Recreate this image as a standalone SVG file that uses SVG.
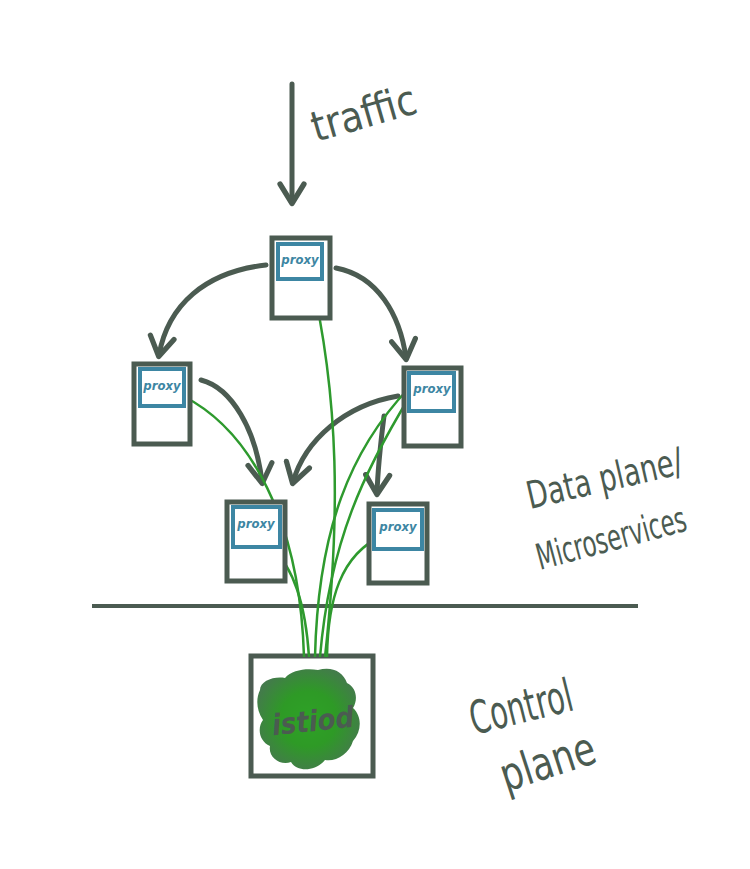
<svg xmlns="http://www.w3.org/2000/svg" width="750" height="869" viewBox="0 0 750 869">
<defs>
<style>
.box{fill:#fff;stroke:#4b5b51;stroke-width:5}
.inner{fill:#fff;stroke:#3d86a3;stroke-width:4}
.px{font-family:"DejaVu Sans Condensed","DejaVu Sans",sans-serif;font-style:italic;font-weight:bold;font-size:13px;fill:#3d86a3}
.arr{fill:none;stroke:#4b5b51;stroke-width:5;stroke-linecap:round}
.g{fill:none;stroke:#2e9a2e;stroke-width:2.5}
.hand{font-family:"DejaVu Sans Condensed","DejaVu Sans",sans-serif;fill:#4b5b51}
</style>
<marker id="ah" viewBox="0 0 20 20" refX="14" refY="10" markerWidth="6" markerHeight="6" orient="auto" markerUnits="strokeWidth">
<path d="M2,2 L15,10 L2,18" fill="none" stroke="#4b5b51" stroke-width="3.5" stroke-linecap="round" stroke-linejoin="round"/>
</marker>
<radialGradient id="blob" cx="0.5" cy="0.5" r="0.55">
<stop offset="0" stop-color="#2ea226"/>
<stop offset="0.5" stop-color="#2e9a26"/>
<stop offset="1" stop-color="#447a4c"/>
</radialGradient>
</defs>
<rect width="750" height="869" fill="#fff"/>

<line x1="92" y1="606" x2="638" y2="606" stroke="#4b5b51" stroke-width="4"/>

<g id="istiod">
<rect x="251" y="656" width="122" height="120" class="box"/>
<path d="M260,690 C260,681 274,676 285,678 C292,670 306,668 318,670 C331,666 343,671 347,683 C357,688 358,700 353,708 C362,716 362,731 353,741 C349,754 336,762 325,760 C315,772 297,772 291,762 C280,766 268,757 270,746 C259,741 257,728 263,720 C256,710 256,698 260,690 Z" fill="url(#blob)"/>
<text x="313" y="731" text-anchor="middle" class="hand" font-size="29" font-style="italic" font-weight="bold" transform="rotate(-6 313 722)">istiod</text>
</g>

<g id="connectors">
<line x1="292" y1="84" x2="292" y2="202" class="arr" marker-end="url(#ah)"/>
<path d="M266,265 C205,272 168,305 159,355" class="arr" marker-end="url(#ah)"/>
<path d="M336,268 C378,276 400,315 406,358" class="arr" marker-end="url(#ah)"/>
<path d="M201,380 C232,388 256,430 262,482" class="arr" marker-end="url(#ah)"/>
<path d="M398,396 C345,405 305,440 293,482" class="arr" marker-end="url(#ah)"/>
<path d="M384,416 C381,440 378,465 377,493" class="arr" marker-end="url(#ah)"/>

<path d="M310,272 C340,400 340,520 325,657" class="g"/>
<path d="M183,396 C250,430 300,520 304,657" class="g"/>
<path d="M272,548 C296,570 306,610 309,657" class="g"/>
<path d="M409,388 C350,450 318,530 315,657" class="g"/>
<path d="M410,396 C365,470 330,540 320,657" class="g"/>
<path d="M383,535 C340,555 328,600 327,657" class="g"/>
</g>

<g id="proxy-top">
<rect x="272" y="238" width="58" height="80" class="box"/>
<rect x="278" y="244" width="44" height="35" class="inner"/>
<text x="300" y="264" text-anchor="middle" class="px">proxy</text>
</g>
<g id="proxy-left">
<rect x="134" y="364" width="56" height="80" class="box"/>
<rect x="140" y="369" width="44" height="37" class="inner"/>
<text x="162" y="390" text-anchor="middle" class="px">proxy</text>
</g>
<g id="proxy-right">
<rect x="404" y="368" width="57" height="78" class="box"/>
<rect x="409" y="373" width="45" height="38" class="inner"/>
<text x="432" y="393" text-anchor="middle" class="px">proxy</text>
</g>
<g id="proxy-bottom-left">
<rect x="227" y="502" width="58" height="79" class="box"/>
<rect x="233" y="507" width="47" height="40" class="inner"/>
<text x="256" y="528" text-anchor="middle" class="px">proxy</text>
</g>
<g id="proxy-bottom-right">
<rect x="369" y="504" width="58" height="79" class="box"/>
<rect x="374" y="510" width="48" height="39" class="inner"/>
<text x="398" y="531" text-anchor="middle" class="px">proxy</text>
</g>

<g id="labels">
<text class="hand" font-size="42" transform="translate(316 142) rotate(-16) scale(0.97 1)">traffic</text>
<text class="hand" font-size="38" transform="translate(530 509) rotate(-13) scale(0.8 1)">Data plane/</text>
<text class="hand" font-size="36" transform="translate(540 570) rotate(-15) scale(0.7 1)">Microservices</text>
<text class="hand" font-size="46" transform="translate(474 735) rotate(-14) scale(0.7 1)">Control</text>
<text class="hand" font-size="46" transform="translate(506 792) rotate(-18) scale(0.85 1)">plane</text>
</g>
</svg>
